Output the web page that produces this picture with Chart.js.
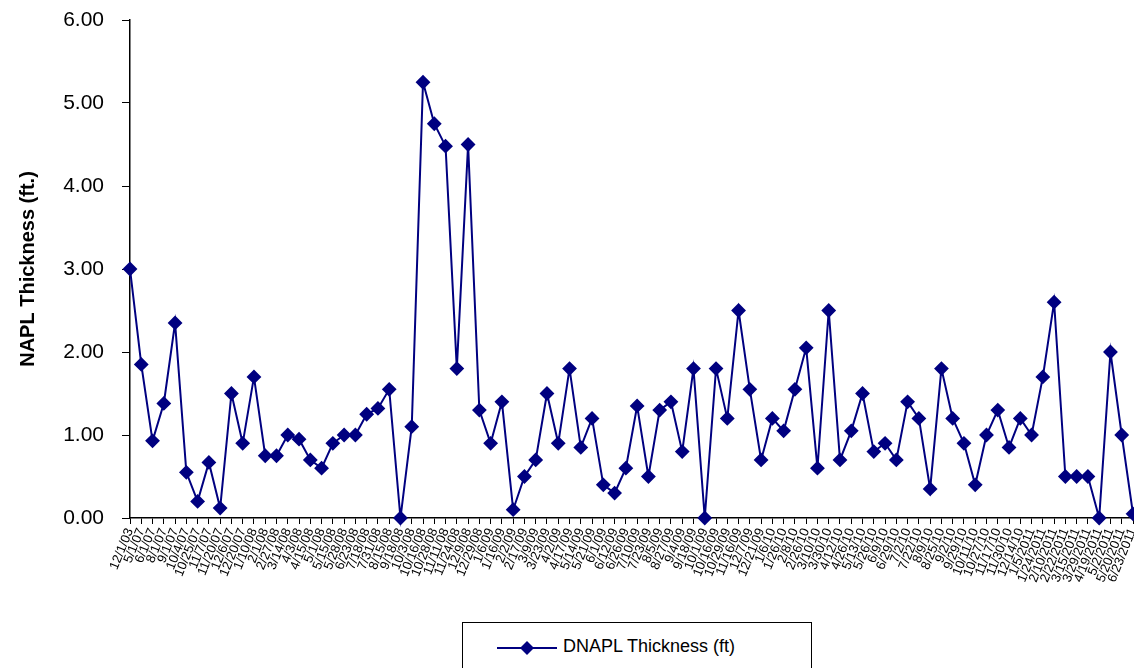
<!DOCTYPE html>
<html>
<head>
<meta charset="utf-8">
<script src="https://cdn.jsdelivr.net/npm/chart.js@4/dist/chart.umd.min.js"></script>
<style>
  body { margin: 0; background: #fff; overflow: hidden; }
  #wrap { position: relative; width: 1134px; height: 668px; }
  #legend {
    position: absolute; left: 462px; top: 622px; width: 350px; height: 60px;
    border: 1px solid #000; box-sizing: border-box; background: #fff;
    font-family: "Liberation Sans", Arial, sans-serif; font-size: 18px; color: #000;
  }
  #legend svg { position: absolute; left: 32px; top: 13px; }
  #legend span { position: absolute; left: 100px; top: 13px; }
</style>
</head>
<body>
<div id="wrap">
  <canvas id="napl" width="1134" height="668"></canvas>
  <div id="legend">
    <svg width="64" height="24"><line x1="2" y1="12" x2="62" y2="12" stroke="#000080" stroke-width="2"/><polygon points="32,5 39,12 32,19 25,12" fill="#000080"/></svg>
    <span>DNAPL Thickness (ft)</span>
  </div>
</div>
<script>
window.onload = function() {

  // 日付
  var dates = ["12/1/03","5/1/07","6/1/07","8/1/07","9/1/07","10/4/07","10/25/07","11/7/07","11/20/07","12/6/07",
               "12/20/07","1/10/08","2/1/08","2/27/08","3/14/08","4/3/08","4/15/08","5/1/08","5/15/08","5/28/08",
               "6/23/08","7/18/08","7/31/08","8/15/08","9/18/08","10/3/08","10/16/08","10/28/08","11/11/08","11/24/08",
               "12/9/08","12/29/08","1/6/09","1/16/09","2/2/09","2/17/09","3/9/09","3/23/09","4/2/09","4/17/09",
               "5/14/09","5/21/09","6/1/09","6/12/09","6/26/09","7/10/09","7/23/09","8/5/09","8/27/09","9/4/09",
               "9/18/09","10/1/09","10/16/09","10/29/09","11/16/09","12/7/09","12/21/09","1/6/10","1/26/10","2/8/10",
               "2/26/10","3/10/10","3/30/10","4/12/10","4/26/10","5/13/10","5/26/10","6/9/10","6/29/10","7/2/10",
               "7/22/10","8/9/10","8/25/10","9/2/10","9/29/10","10/11/10","10/27/10","11/17/10","11/30/10","12/14/10",
               "1/5/2011","1/24/2011","2/10/2011","2/22/2011","3/15/2011","3/29/2011","4/19/2011","5/2/2011","5/20/2011","6/23/2011"];

  // DNAPL 厚さ (ft)
  var thickness = [3.00,1.85,0.93,1.38,2.35,0.55,0.20,0.67,0.12,1.50,
                   0.90,1.70,0.75,0.75,1.00,0.95,0.70,0.60,0.90,1.00,
                   1.00,1.25,1.32,1.55,0.00,1.10,5.25,4.75,4.48,1.80,
                   4.50,1.30,0.90,1.40,0.10,0.50,0.70,1.50,0.90,1.80,
                   0.85,1.20,0.40,0.30,0.60,1.35,0.50,1.30,1.40,0.80,
                   1.80,0.00,1.80,1.20,2.50,1.55,0.70,1.20,1.05,1.55,
                   2.05,0.60,2.50,0.70,1.05,1.50,0.80,0.90,0.70,1.40,
                   1.20,0.35,1.80,1.20,0.90,0.40,1.00,1.30,0.85,1.20,
                   1.00,1.70,2.60,0.50,0.50,0.50,0.00,2.00,1.00,0.05];

  var yTicks = [0,1,2,3,4,5,6];

  var ctx = document.getElementById("napl").getContext("2d");

  var myLineChart = new Chart(ctx, {
    type: 'line',
    data: {
      labels: dates,
      datasets: [{
        label: "DNAPL Thickness (ft)",
        data: thickness,
        borderColor: "#000080",
        backgroundColor: "#000080",
        borderWidth: 2,
        pointStyle: 'rectRot',
        pointRadius: 6,
        pointHoverRadius: 6,
        tension: 0,
        clip: false
      }]
    },
    options: {
      responsive: false,
      animation: false,
      layout: { autoPadding: false, padding: { top: 20, right: 1, left: 2, bottom: 0 } },
      plugins: {
        legend: { display: false },
        tooltip: { enabled: false }
      },
      scales: {
        x: {
          offset: false,
          grid: { display: true, drawOnChartArea: false, color: "#000", tickLength: 6 },
          border: { color: "#000", width: 1.5 },
          ticks: {
            autoSkip: false,
            minRotation: 68,
            maxRotation: 68,
            padding: 2,
            color: "#000",
            font: { family: "Liberation Sans, Arial, sans-serif", size: 13 }
          },
          afterFit: function(scale) {
            scale.height = 150;
            scale.paddingLeft = 0;
            scale.paddingRight = 0;
          }
        },
        y: {
          min: 0,
          max: 6,
          afterBuildTicks: function(scale) {
            scale.ticks = yTicks.map(function(v) { return { value: v }; });
          },
          grid: { display: true, drawOnChartArea: false, color: "#000", tickLength: 8 },
          border: { color: "#000", width: 1.5 },
          ticks: {
            padding: 18,
            color: "#000",
            font: { family: "Liberation Sans, Arial, sans-serif", size: 21 },
            callback: function(v) { return Number(v).toFixed(2); }
          },
          title: {
            display: true,
            text: "NAPL Thickness (ft.)",
            color: "#000",
            padding: { top: 14, bottom: 0 },
            font: { family: "Liberation Sans, Arial, sans-serif", size: 20, weight: 'bold' }
          },
          afterFit: function(scale) {
            scale.width = 128;
            scale.paddingTop = 0;
            scale.paddingBottom = 0;
          }
        }
      }
    }
  });
};
</script>
</body>
</html>
